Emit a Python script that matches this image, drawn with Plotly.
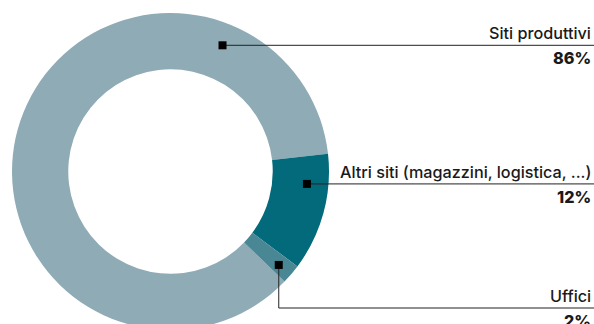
import numpy as np
import plotly.graph_objects as go

# ---- data ----
labels = ["Siti produttivi", "Altri siti (magazzini, logistica, ...)", "Uffici"]
values = [86, 12, 2]
pct_text = ["86%", "12%", "2%"]

# ---- look ----
colors = ["#8fabb5", "#026a7a", "#4a8794"]
W, H = 594, 330          # figure is a bit taller than the window: donut is cut at the bottom
CX, CY, R = 170.5, 171.5, 158.5
HOLE = 0.645
FONT = "Inter"
INK = "#1a1a1a"

# where the little black squares sit inside each slice (deg clockwise from 12 o'clock, radius px)
anchor_angle = [22.4, 95.2, 130.8]
anchor_rad = [136.5, 137.0, 143.0]
line_y = [46, 184, 308]  # y of the leader line that runs to the right edge

fig = go.Figure()

fig.add_trace(go.Pie(
    labels=labels, values=values, sort=False, direction="clockwise", rotation=134,
    hole=HOLE, marker=dict(colors=colors, line=dict(width=0)),
    textinfo="none", hoverinfo="label+percent", showlegend=False,
    domain=dict(x=[(CX - R) / W, (CX + R) / W], y=[(H - CY - R) / H, (H - CY + R) / H]),
))

ang = np.radians(anchor_angle)
mx = CX + np.array(anchor_rad) * np.sin(ang)
my = CY - np.array(anchor_rad) * np.cos(ang)

# pies sit above cartesian traces, so leaders and squares go in as shapes (drawn on top)
for i in range(len(labels)):
    if abs(my[i] - line_y[i]) < 3:
        path = f"M{mx[i]},{my[i]} H{W}"
        ly = my[i]
    else:
        path = f"M{mx[i]},{my[i]} V{line_y[i]} H{W}"
        ly = line_y[i]
    fig.add_shape(type="path", path=path, xref="x", yref="y", layer="above",
                  line=dict(color="#222222", width=1))
    fig.add_shape(type="rect", xref="x", yref="y", layer="above",
                  x0=mx[i] - 4, x1=mx[i] + 4, y0=my[i] - 4, y1=my[i] + 4,
                  fillcolor="#000000", line=dict(width=0))
    fig.add_annotation(x=593, y=ly - 12, text=labels[i], showarrow=False, xanchor="right", yanchor="middle",
                       font=dict(family=FONT, size=16.2, color=INK, weight=500))
    fig.add_annotation(x=593, y=ly + 13, text=pct_text[i], showarrow=False, xanchor="right",
                       yanchor="middle", font=dict(family=FONT, size=16.2, color=INK, weight=800))

fig.update_xaxes(range=[0, W], visible=False, fixedrange=True)
fig.update_yaxes(range=[H, 0], visible=False, fixedrange=True)
fig.update_layout(width=W, height=H, margin=dict(l=0, r=0, t=0, b=0),
                  paper_bgcolor="white", plot_bgcolor="rgba(0,0,0,0)")

fig.write_html("out.html", config={"displayModeBar": False},
               post_script="document.body.style.margin='0';document.body.style.overflow='hidden';")
